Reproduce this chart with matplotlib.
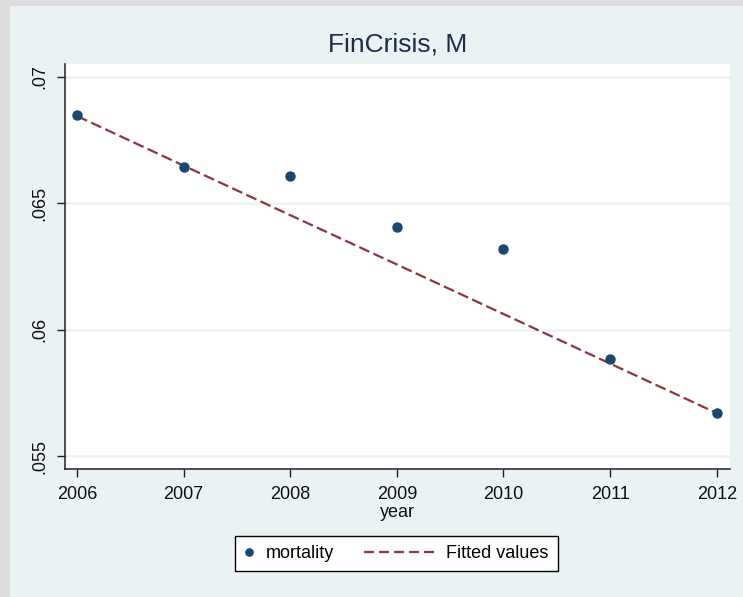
import numpy as np
import matplotlib
matplotlib.use("Agg")
import matplotlib.pyplot as plt
from matplotlib.patches import Rectangle
from matplotlib.legend_handler import HandlerLine2D

plt.rcParams['font.family'] = ['Liberation Sans', 'DejaVu Sans']
plt.rcParams['lines.scale_dashes'] = False

# data
years = [2006, 2007, 2008, 2009, 2010, 2011, 2012]
mortality = [0.06850, 0.06642, 0.06608, 0.06406, 0.06321, 0.05883, 0.05669]
fitted = [0.06845, 0.06649, 0.06453, 0.06258, 0.06062, 0.05866, 0.05670]
yticks = [0.055, 0.06, 0.065, 0.07]
ytick_labels = ['.055', '.06', '.065', '.07']

bg = '#eaf2f3'
navy = '#1a476f'
maroon = '#90353b'
frame_gray = '#dcdcdc'


# legend handlers with their own handle widths (stata style legend)
class SizedHandler(HandlerLine2D):
    def __init__(self, length, **kw):
        super().__init__(**kw)
        self.length = length

    def legend_artist(self, legend, orig_handle, fontsize, handlebox):
        handlebox.width = self.length * fontsize
        return super().legend_artist(legend, orig_handle, fontsize, handlebox)


fig = plt.figure(figsize=(7.43, 5.97), dpi=100)
fig.patch.set_facecolor(bg)
# gray strips on the left and top edge
fig.add_artist(Rectangle((0, 0), 10/743, 1, transform=fig.transFigure,
                         facecolor=frame_gray, edgecolor='none'))
fig.add_artist(Rectangle((0, 1 - 6/597), 1, 6/597, transform=fig.transFigure,
                         facecolor=frame_gray, edgecolor='none'))

ax = fig.add_axes([65/743, 1 - 469/597, 664.5/743, 405/597])
ax.set_facecolor('white')

fitLine, = ax.plot(years, fitted, color=maroon, lw=1.6, dashes=(8, 3.2), label='Fitted values', zorder=3)
dots, = ax.plot(years, mortality, 'o', color=navy, ms=6.5, label='mortality', zorder=4)

ax.set_xlim(2005.887, 2012.12)
ax.set_ylim(0.05449, 0.07051)
ax.set_xticks(years)
ax.set_yticks(yticks)
ax.set_yticklabels(ytick_labels, rotation=90, va='center')
ax.tick_params(axis='both', labelsize=13, length=6, width=1, color='#222222', labelcolor='#111111')
ax.tick_params(axis='y', pad=6)
ax.tick_params(axis='x', pad=6)
ax.grid(axis='y', color=bg, lw=1.8)
ax.set_axisbelow(True)
for s in ['top', 'right']:
    ax.spines[s].set_visible(False)
for s in ['left', 'bottom']:
    ax.spines[s].set_color('#222222')
    ax.spines[s].set_linewidth(1.1)

ax.set_xlabel('year', fontsize=13, labelpad=1, color='#111111')
ax.set_title('FinCrisis, M', fontsize=19, color='#1f2d4d', pad=9)

leg = ax.legend([dots, fitLine], ['mortality', 'Fitted values'], loc='upper center',
                bbox_to_anchor=(396.5/743, 1 - 536/597), bbox_transform=fig.transFigure,
                borderaxespad=0, ncol=2, fontsize=13, frameon=True, fancybox=False,
                framealpha=1, edgecolor='black', handlelength=1.0, columnspacing=1.65,
                handletextpad=0.67, borderpad=0.5, markerscale=0.8,
                handler_map={dots: SizedHandler(0.5), fitLine: SizedHandler(3.9)})
leg.get_frame().set_linewidth(1.0)
leg.legend_handles[1].set_dashes((7.2, 3.6))

fig.savefig('out.png', dpi=100, facecolor=fig.get_facecolor())
